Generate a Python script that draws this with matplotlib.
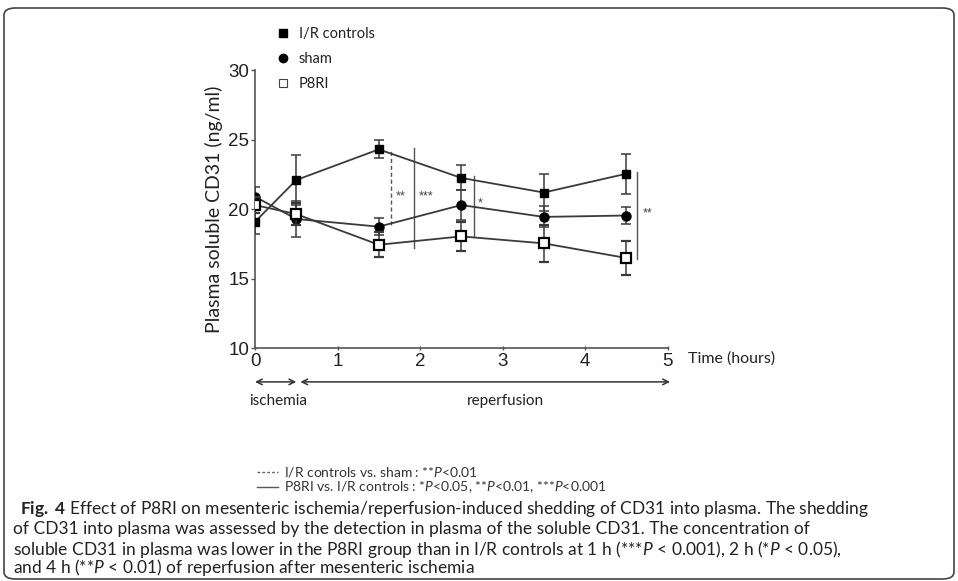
import matplotlib
matplotlib.use("Agg")
import matplotlib.pyplot as plt
from matplotlib.lines import Line2D
from matplotlib.patches import FancyBboxPatch

plt.rcParams['font.family'] = ['Lato', 'DejaVu Sans']
plt.rcParams['mathtext.fontset'] = 'custom'
plt.rcParams['mathtext.rm'] = 'Lato'
plt.rcParams['mathtext.it'] = 'Lato:italic'
plt.rcParams['mathtext.bf'] = 'Lato:bold'

# data
hours = [0, 0.5, 1.5, 2.5, 3.5, 4.5]
ir_controls = [19.1, 22.1, 24.3, 22.25, 21.2, 22.55]
ir_err = [0.85, 1.8, 0.65, 0.9, 1.35, 1.45]
sham = [20.9, 19.3, 18.75, 20.3, 19.45, 19.55]
sham_err = [0.7, 1.3, 0.6, 1.1, 0.75, 0.6]
p8ri = [20.3, 19.65, 17.45, 18.05, 17.55, 16.5]
p8ri_err = [0.6, 0.8, 0.9, 1.05, 1.35, 1.2]

# significance bars
sig_x = [1.65, 1.93, 2.65, 4.63]
sig_lo = [18.9, 17.25, 18.05, 16.45]
sig_hi = [24.35, 24.4, 22.4, 22.7]
sig_txt = ['**', '***', '*', '**']
sig_tx = [1.77, 2.07, 2.73, 4.76]
sig_ty = [20.9, 20.9, 20.4, 19.7]
sig_dash = [True, False, False, False]

fig = plt.figure(figsize=(9.58, 5.81), dpi=100)
ax = fig.add_axes([0.2662, 0.4002, 0.4306, 0.4793])

lc = '#3a3a3a'
ax.errorbar(hours, ir_controls, yerr=ir_err, color=lc, lw=1.3, marker='s', ms=6,
            mfc='black', mec='black', capsize=3.5, elinewidth=1.1, capthick=1.1, zorder=3)
ax.errorbar(hours, sham, yerr=sham_err, color=lc, lw=1.3, marker='o', ms=6.5,
            mfc='black', mec='black', capsize=3.5, elinewidth=1.1, capthick=1.1, zorder=3)
ax.errorbar(hours, p8ri, yerr=p8ri_err, color=lc, lw=1.3, marker='s', ms=7,
            mfc='white', mec='black', mew=1.6, capsize=3.5, elinewidth=1.1, capthick=1.1, zorder=4)

for x, lo, hi, t, tx, ty, d in zip(sig_x, sig_lo, sig_hi, sig_txt, sig_tx, sig_ty, sig_dash):
    ax.plot([x, x], [lo, hi], color='#555555', lw=1.0, ls=(0, (3, 2)) if d else '-')
    ax.text(tx, ty, t, fontsize=9, color='#444444', ha='center', va='center',
            family=['Liberation Sans'])

ax.set_xlim(0, 5)
ax.set_ylim(10, 30)
ax.set_yticks([10, 15, 20, 25, 30])
ax.set_xticks([0, 1, 2, 3, 4, 5])
for s in ['top', 'right']:
    ax.spines[s].set_visible(False)
for s in ['left', 'bottom']:
    ax.spines[s].set_color('#555555')
    ax.spines[s].set_linewidth(1.2)
ax.tick_params(axis='y', length=3, width=1, color='#555555', pad=1, labelsize=13.5, labelcolor='#222222')
ax.tick_params(axis='x', direction='inout', length=3, width=1, color='#555555', pad=2,
               labelsize=13.5, labelcolor='#222222')
for lab in ax.get_xticklabels() + ax.get_yticklabels():
    lab.set_fontfamily('Liberation Sans')

ax.set_ylabel('Plasma soluble CD31 (ng/ml)', fontsize=14, color='#222222', labelpad=4)
ax.text(5.25, 9.25, 'Time (hours)', fontsize=11.5, color='#222222', ha='left', va='center')

# ischemia / reperfusion arrows
arr = dict(arrowstyle='<->', color='#333333', lw=1.1, shrinkA=0, shrinkB=0)
ax.annotate('', xy=(0.5, 7.6), xytext=(0, 7.6), arrowprops=arr, annotation_clip=False)
ax.annotate('', xy=(5.03, 7.6), xytext=(0.55, 7.6), arrowprops=arr, annotation_clip=False)
ax.text(0.28, 6.2, 'ischemia', fontsize=11, color='#222222', ha='center', va='center')
ax.text(3.03, 6.2, 'reperfusion', fontsize=11, color='#222222', ha='center', va='center')

# marker legend
handles = [Line2D([], [], ls='none', marker='s', ms=6, mfc='black', mec='black'),
           Line2D([], [], ls='none', marker='o', ms=6, mfc='black', mec='black'),
           Line2D([], [], ls='none', marker='s', ms=6, mfc='white', mec='#444444', mew=0.8)]
fig.legend(handles, ['I/R controls', 'sham', 'P8RI'], loc='upper left',
           bbox_to_anchor=(268 / 958, 1 - 20 / 581), frameon=False, fontsize=10.5,
           handlelength=1.0, handletextpad=0.6, labelspacing=0.75, borderpad=0,
           labelcolor='#222222')

# significance key
fig.add_artist(Line2D([257 / 958, 278 / 958], [1 - 472 / 581] * 2, color='#666666', lw=1, ls=(0, (2, 1.5))))
fig.add_artist(Line2D([257 / 958, 278 / 958], [1 - 487 / 581] * 2, color='#555555', lw=1))
fig.text(284 / 958, 1 - 472 / 581, r'I/R controls vs. sham : **$\mathit{P}$<0.01', fontsize=10,
         color='#333333', va='center')
fig.text(284 / 958, 1 - 487 / 581,
         r'P8RI vs. I/R controls : *$\mathit{P}$<0.05, **$\mathit{P}$<0.01, ***$\mathit{P}$<0.001',
         fontsize=10, color='#333333', va='center')

# caption
cap = [r'$\mathbf{Fig.\ 4}$ Effect of P8RI on mesenteric ischemia/reperfusion-induced shedding of CD31 into plasma. The shedding',
       'of CD31 into plasma was assessed by the detection in plasma of the soluble CD31. The concentration of',
       r'soluble CD31 in plasma was lower in the P8RI group than in I/R controls at 1 h (***$\mathit{P}$ < 0.001), 2 h (*$\mathit{P}$ < 0.05),',
       r'and 4 h (**$\mathit{P}$ < 0.01) of reperfusion after mesenteric ischemia']
cap_y = [509, 529, 549, 568]
cap_x = [20, 13, 13, 13]
for t, y, x in zip(cap, cap_y, cap_x):
    fig.text(x / 958, 1 - y / 581, t, fontsize=12.5, color='#222222', va='center')

fig.add_artist(FancyBboxPatch((4 / 958, 2 / 581), 950 / 958, 571 / 581,
                              boxstyle='round,pad=0,rounding_size=0.012',
                              transform=fig.transFigure, fill=False, ec='#444444', lw=1.2))

fig.savefig('out.png', dpi=100)
